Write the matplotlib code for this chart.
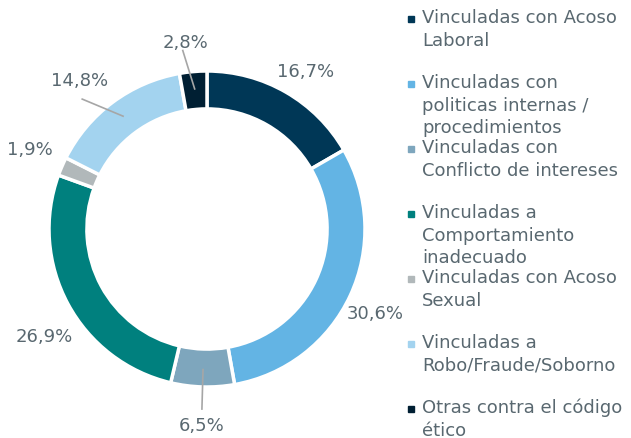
import matplotlib.pyplot as plt
import numpy as np

# data
labels = ["Vinculadas con Acoso\nLaboral",
          "Vinculadas con\npoliticas internas /\nprocedimientos",
          "Vinculadas con\nConflicto de intereses",
          "Vinculadas a\nComportamiento\ninadecuado",
          "Vinculadas con Acoso\nSexual",
          "Vinculadas a\nRobo/Fraude/Soborno",
          "Otras contra el código\nético"]
values = [16.7, 30.6, 6.5, 26.9, 1.9, 14.8, 2.8]
pct_text = ["16,7%", "30,6%", "6,5%", "26,9%", "1,9%", "14,8%", "2,8%"]
colors = ["#003756", "#63b4e4", "#7ea6bd", "#00807e", "#b1b8ba", "#a3d3ef", "#001f33"]

# label placement (radius, angle shift in degrees, leader line?)
lab_r = [1.18, 1.19, 1.24, 1.23, 1.23, 1.24, 1.19]
lab_shift = [-2, -1.5, 0, 5, -1, 4, 1.5]
leader = [False, False, True, False, False, True, True]

txt_col = "#596870"

fig = plt.figure(figsize=(6.31, 4.39), dpi=100)
ax = fig.add_axes([0, 0, 1, 1])

wedges, _ = ax.pie(values, colors=colors, startangle=90, counterclock=False,
                   radius=1.0, wedgeprops=dict(width=0.24, edgecolor="white", linewidth=2.5))

tot = sum(values)
cum = 0
for i, v in enumerate(values):
    mid = 90 - (cum + v / 2) / tot * 360
    cum += v
    a = np.deg2rad(mid + lab_shift[i])
    x, y = lab_r[i] * np.cos(a), lab_r[i] * np.sin(a)
    ax.text(x, y, pct_text[i], ha="center", va="center", fontsize=13, color=txt_col)
    if leader[i]:
        a0 = np.deg2rad(mid)
        a1 = np.deg2rad(mid + lab_shift[i] * 1.8)
        ax.plot([0.89 * np.cos(a0), 1.14 * np.cos(a1)],
                [0.89 * np.sin(a0), 1.14 * np.sin(a1)], color="#a6a6a6", lw=1.2)

# 1 data unit = 158 px, donut centre at (207, 230) px from top-left
ax.set_xlim(-207 / 158, (631 - 207) / 158)
ax.set_ylim(-(439 - 230) / 158, 230 / 158)
ax.axis("off")

# legend drawn by hand, evenly spaced entries
for i, lab in enumerate(labels):
    yp = 20 + i * 65
    fig.patches.append(plt.Rectangle(((411 - 3) / 631, 1 - (yp + 3) / 439), 6 / 631, 6 / 439,
                                     transform=fig.transFigure, color=colors[i]))
    fig.text(422 / 631, 1 - (yp - 11) / 439, lab, ha="left", va="top", fontsize=13,
             color=txt_col, linespacing=1.33)

fig.savefig("out.png", dpi=100)
